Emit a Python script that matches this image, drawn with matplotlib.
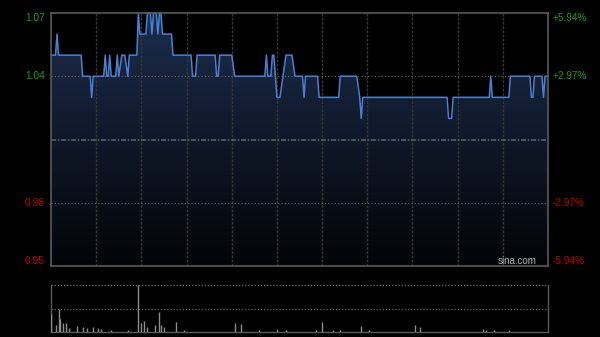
import numpy as np
import matplotlib
matplotlib.use('Agg')
import matplotlib.pyplot as plt
from matplotlib.colors import LinearSegmentedColormap
from matplotlib.patches import Polygon
from matplotlib.transforms import blended_transform_factory

# ---- data (minutes since 09:30, trading minutes; price in HKD) ----
minutes = [0, 3, 4, 5, 20, 21, 26, 27, 28, 35, 36, 37, 38, 39, 40, 43, 44, 45, 47, 49,
           51, 52, 57, 58, 59, 63, 64, 66, 67, 68, 70, 71, 72, 73, 74, 80, 81, 93, 94, 96,
           97, 109, 110, 111, 112, 120, 122, 142, 143, 144, 146, 147, 148, 150, 152, 154, 156, 160, 162, 167,
           168, 169, 177, 178, 191, 192, 203, 205, 206, 207, 263, 264, 266, 267, 291, 292, 293, 304, 305, 318,
           319, 320, 321, 326, 327, 328, 330]
prices = [1.05, 1.05, 1.06, 1.05, 1.05, 1.04, 1.04, 1.03, 1.04, 1.04, 1.05, 1.04, 1.04, 1.05, 1.04, 1.04, 1.05, 1.04, 1.05, 1.05,
          1.04, 1.05, 1.05, 1.07, 1.06, 1.06, 1.07, 1.07, 1.06, 1.07, 1.07, 1.06, 1.07, 1.07, 1.06, 1.06, 1.05, 1.05, 1.04, 1.04,
          1.05, 1.05, 1.04, 1.04, 1.05, 1.05, 1.04, 1.04, 1.05, 1.04, 1.04, 1.05, 1.05, 1.03, 1.03, 1.04, 1.05, 1.05, 1.04, 1.04,
          1.03, 1.04, 1.04, 1.03, 1.03, 1.04, 1.04, 1.03, 1.02, 1.03, 1.03, 1.02, 1.02, 1.03, 1.03, 1.04, 1.03, 1.03, 1.04, 1.04,
          1.03, 1.03, 1.04, 1.04, 1.03, 1.04, 1.04]

prev_close = 1.01
price_ticks = [0.95, 0.98, 1.04, 1.07]
price_labels = ['0.95', '0.98', '1.04', '1.07']
pct_labels = ['-5.94%', '-2.97%', '+2.97%', '+5.94%']

vol_minutes = [0, 3, 5, 6, 8, 10, 12, 17, 21, 24, 28, 31, 33, 40, 51, 58, 60, 62, 64, 69,
               72, 73, 75, 83, 88, 122, 126, 138, 150, 156, 176, 180, 187, 192, 206, 211, 242, 245, 287, 289,
               294, 304]
vol_values = [0.38, 0.15, 0.49, 0.27, 0.20, 0.20, 0.09, 0.13, 0.11, 0.08, 0.10, 0.08, 0.06, 0.05, 0.05, 1.00, 0.19, 0.23, 0.11, 0.15,
              0.43, 0.15, 0.10, 0.21, 0.04, 0.20, 0.17, 0.04, 0.07, 0.04, 0.04, 0.21, 0.05, 0.04, 0.13, 0.04, 0.15, 0.10, 0.06, 0.05,
              0.04, 0.04]

assert len(minutes) == len(prices)
assert len(vol_minutes) == len(vol_values)

T_END = 330
YMIN, YMAX = 0.95, 1.07

fig = plt.figure(figsize=(6, 3.37), dpi=100, facecolor='black')
ax = fig.add_axes([51 / 600, 1 - 266 / 337, 497 / 600, 253 / 337])
ax.set_facecolor('black')
ax.set_xlim(0, T_END)
ax.set_ylim(YMIN, YMAX)
ax.set_xticks([])
ax.set_yticks([])

# gradient fill under the price line
cmap = LinearSegmentedColormap.from_list('g', ['#030407', '#1c2d4c'])
grad = np.linspace(1, 0, 256).reshape(-1, 1)
im = ax.imshow(grad, extent=[0, T_END, YMIN, YMAX], aspect='auto', cmap=cmap,
               origin='upper', vmin=0, vmax=1, zorder=1, interpolation='bilinear')
verts = list(zip(minutes, prices)) + [(minutes[-1], YMIN), (minutes[0], YMIN)]
patch = Polygon(verts, closed=True, facecolor='none', edgecolor='none', transform=ax.transData)
ax.add_patch(patch)
im.set_clip_path(patch)

# grid
for m in range(30, T_END, 30):
    ax.axvline(m, color='#363636', lw=1.0, ls=(0, (2, 1)), zorder=2)
for p in [0.98, 1.04]:
    ax.axhline(p, color='#6a6a6a', lw=0.8, ls=(0, (1, 2)), zorder=2)
ax.axhline(prev_close, color='#56606c', lw=1.2, ls=(0, (3, 1, 1, 1)), zorder=2)

# price line
ax.plot(minutes, prices, color='#4a80d4', lw=1.1, zorder=4, clip_on=False)

for s in ax.spines.values():
    s.set_color('#5a5a5a')
    s.set_linewidth(1.2)
    s.set_zorder(5)

trans = blended_transform_factory(ax.transAxes, ax.transData)
for p, lab, pct in zip(price_ticks, price_labels, pct_labels):
    col = '#12a012' if p > prev_close else '#c40000'
    va = 'center'
    if p == YMAX:
        va = 'top'
    elif p == YMIN:
        va = 'bottom'
    ax.text(-0.012, p, lab, transform=trans, ha='right', va=va, color=col,
            fontsize=7.4, family='Liberation Sans')
    ax.text(1.01, p, pct, transform=trans, ha='left', va=va, color=col,
            fontsize=7.2, family='Liberation Sans')

ax.text(0.978, 0.018, 'sina.com', transform=ax.transAxes, ha='right', va='center',
        color='#b4b4b4', fontsize=7, family='Liberation Sans', zorder=6)

# volume panel
axv = fig.add_axes([51 / 600, 5 / 337, 497 / 600, 47 / 337])
axv.set_facecolor('black')
axv.set_xlim(0, T_END)
axv.set_ylim(0, 1.0)
axv.set_xticks([])
axv.set_yticks([])
axv.vlines(vol_minutes, 0, vol_values, color='#8c8c8c', lw=1.0, zorder=3)
axv.axhline(1.0, color='#707070', lw=0.9, ls=(0, (1, 1.5)), clip_on=False)
axv.axhline(0.5, color='#606060', lw=0.9, ls=(0, (1, 1.5)))
axv.spines['top'].set_visible(False)
for k in ['left', 'right', 'bottom']:
    axv.spines[k].set_color('#5a5a5a')
    axv.spines[k].set_linewidth(1.0)

fig.savefig('out.png', dpi=100, facecolor='black')
